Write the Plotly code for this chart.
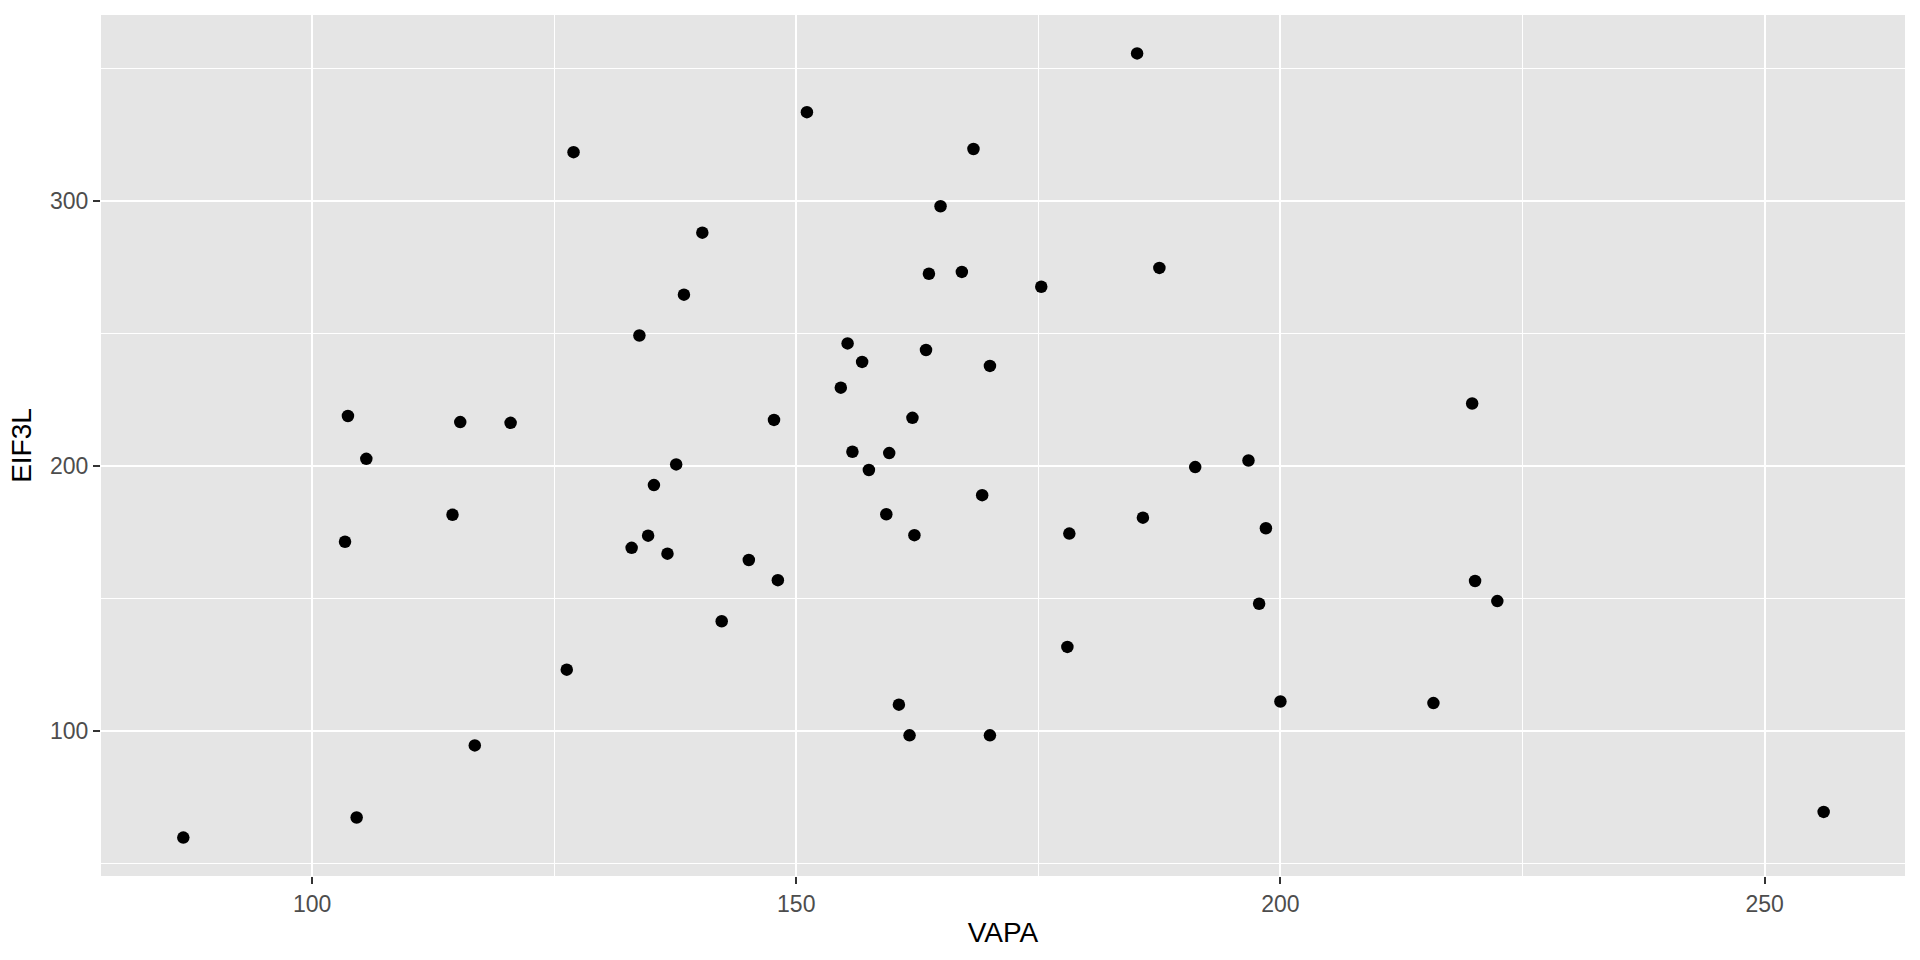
import plotly.graph_objects as go

vapa = [86.7, 103.4, 103.7, 104.6, 105.6, 114.5, 115.3, 116.8, 120.5, 126.3,
        127.0, 133.0, 133.8, 134.7, 135.3, 136.7, 137.6, 138.4, 140.3, 142.3,
        145.1, 147.7, 148.1, 151.1, 154.6, 155.3, 155.8, 156.8, 157.5, 159.3,
        159.6, 160.6, 161.7, 162.0, 162.2, 163.4, 163.7, 164.9, 167.1, 168.3,
        169.2, 170.0, 170.0, 175.3, 178.0, 178.2, 185.2, 185.8, 187.5, 191.2,
        196.7, 197.8, 198.5, 200.0, 215.8, 219.8, 220.1, 222.4, 256.1]
eif3l = [59.6, 171.3, 218.8, 67.2, 202.6, 181.5, 216.5, 94.4, 216.2, 123.0,
         318.4, 169.0, 249.2, 173.6, 192.7, 166.8, 200.5, 264.6, 288.0, 141.3,
         164.4, 217.3, 156.8, 333.5, 229.5, 246.2, 205.3, 239.2, 198.4, 181.7,
         204.8, 109.8, 98.2, 218.1, 173.8, 243.7, 272.5, 298.0, 273.2, 319.6,
         188.9, 237.7, 98.2, 267.6, 131.6, 174.4, 355.7, 180.4, 274.7, 199.5,
         202.0, 147.9, 176.4, 111.0, 110.4, 223.5, 156.5, 148.9, 69.3]

x_ticks = [100, 150, 200, 250]
y_ticks = [100, 200, 300]

FONT = "Liberation Sans, Arial, sans-serif"

fig = go.Figure(go.Scatter(
    x=vapa, y=eif3l, mode="markers",
    marker=dict(color="black", size=12.5, line=dict(width=0)),
    showlegend=False,
))

axis_common = dict(
    showgrid=True, gridcolor="white", gridwidth=2.2,
    zeroline=False, showline=False,
    ticks="outside", ticklen=7, tickwidth=2, tickcolor="#333333",
    tickfont=dict(family=FONT, size=23, color="#4D4D4D"),
)

fig.update_xaxes(
    range=[78.2, 264.5], tickmode="array", tickvals=x_ticks,
    ticktext=[str(v) for v in x_ticks],
    minor=dict(dtick=25, tick0=0, showgrid=True, gridcolor="white", gridwidth=1.1, ticks=""),
    title=dict(text="VAPA", font=dict(family=FONT, size=28, color="black"), standoff=6),
    **axis_common,
)
fig.update_yaxes(
    range=[45.1, 370.2], tickmode="array", tickvals=y_ticks,
    ticktext=[str(v) for v in y_ticks],
    minor=dict(dtick=50, tick0=0, showgrid=True, gridcolor="white", gridwidth=1.1, ticks=""),
    title=dict(text="EIF3L", font=dict(family=FONT, size=28, color="black"), standoff=10),
    **axis_common,
)

fig.update_layout(
    width=1920, height=960,
    margin=dict(l=101, r=15, t=15, b=84),
    plot_bgcolor="#E5E5E5", paper_bgcolor="white",
    hovermode=False,
)

fig.write_html("out.html", config={"displayModeBar": False},
               post_script="document.body.style.margin='0';")
